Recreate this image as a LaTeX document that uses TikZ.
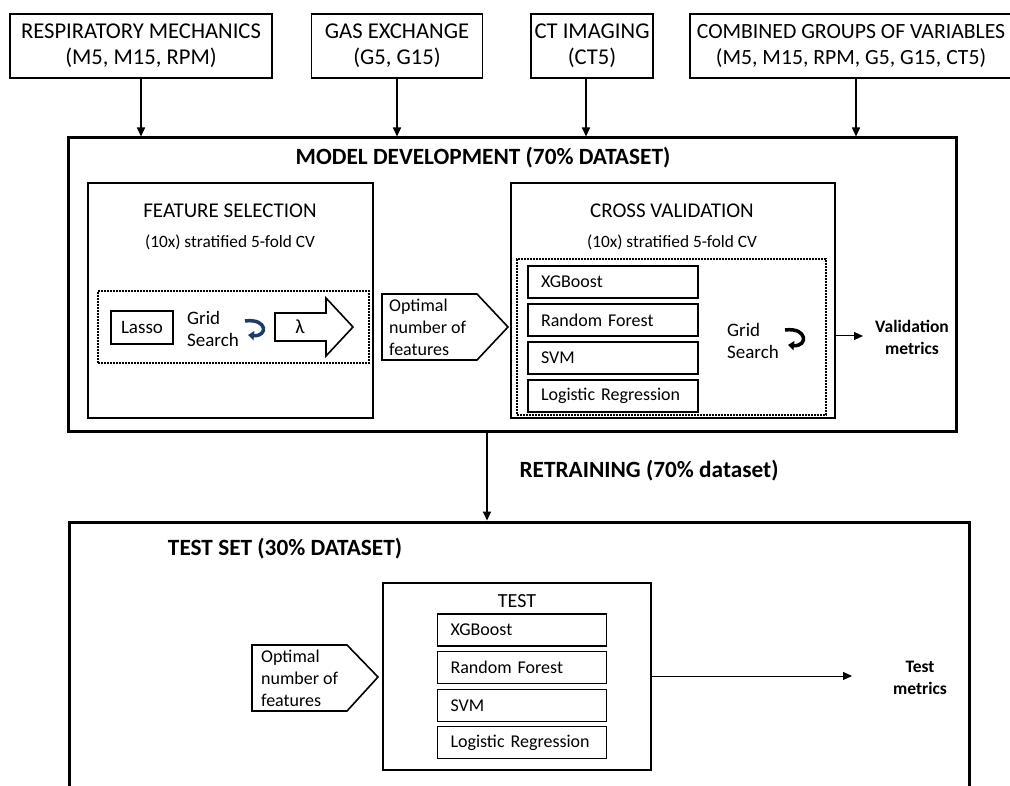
\documentclass[tikz,border=0pt]{standalone}
\usepackage{fontspec}
\setmainfont{Carlito}
\usetikzlibrary{arrows.meta}
\definecolor{navy}{HTML}{1F3A6B}
\begin{document}
\begin{tikzpicture}[x=1pt,y=-1pt,
  topbox/.style={draw, line width=1.8pt, align=center, font=\fontsize{22.6}{26}\selectfont, inner sep=0},
  bigbox/.style={draw, line width=3pt, inner sep=0},
  midbox/.style={draw, line width=1.8pt, inner sep=0},
  dotbox/.style={draw, line width=1.8pt, dash pattern=on 1.6pt off 1.4pt, inner sep=0},
  mbox/.style={draw, line width=1.4pt, minimum height=32pt, text width=144pt, inner xsep=13pt, inner ysep=0, align=left, font=\fontsize{18}{20}\selectfont},
  ttl/.style={font=\fontsize{23.3}{26}\selectfont\bfseries},
  sub/.style={font=\fontsize{21}{24}\selectfont},
  small/.style={font=\fontsize{17.3}{20}\selectfont},
  lbl/.style={align=left, font=\fontsize{19}{22}\selectfont, inner sep=0},
  met/.style={align=center, font=\fontsize{17.5}{22}\selectfont\bfseries, inner sep=0},
  arr/.style={line width=1.6pt, -{Triangle[length=9pt,width=8pt]}},
  thinarr/.style={line width=1pt, -{Triangle[length=9pt,width=8pt]}},
  hook/.style={line width=3.5pt, -{Triangle[length=6pt,width=9pt]}}
]
\useasboundingbox (0,0) rectangle (1010,786);
\fill[white] (0,0) rectangle (1010,786);

% top boxes
\node[topbox, minimum width=262pt, minimum height=64pt] (rm) at (141,46) {RESPIRATORY MECHANICS\\(M5, M15, RPM)};
\node[topbox, minimum width=171pt, minimum height=64pt] (ge) at (397,46) {GAS EXCHANGE\\(G5, G15)};
\node[topbox, minimum width=122pt, minimum height=64pt] (ct) at (592,46) {CT IMAGING\\(CT5)};
\node[topbox, minimum width=326pt, minimum height=64pt] (cg) at (853,46) {};
\node[align=center, font=\fontsize{21.7}{26}\selectfont, inner sep=0] (cgt) at (851,46) {COMBINED GROUPS OF VARIABLES\\(M5, M15, RPM, G5, G15, CT5)};

% model development
\node[bigbox, minimum width=888pt, minimum height=293pt] (md) at (512,284.5) {};
\node[ttl] (mdt) at (483,158) {MODEL DEVELOPMENT (70\% DATASET)};

\draw[arr] (rm.south) -- (rm.south |- md.north);
\draw[arr] (ge.south) -- (ge.south |- md.north);
\draw[arr] ([xshift=-6pt]ct.south) -- ([xshift=-6pt]ct.south |- md.north);
\draw[arr] ([xshift=3pt]cg.south) -- ([xshift=3pt]cg.south |- md.north);

% feature selection
\node[midbox, minimum width=285pt, minimum height=235pt] (fs) at (230.5,300.5) {};
\node[sub] (fst) at (230,211) {FEATURE SELECTION};
\node[small] (fss) at (230,242) {(10x) stratified 5-fold CV};
\node[dotbox, minimum width=271pt, minimum height=72pt] (fsd) at (233.5,327) {};
\node[draw, line width=1.4pt, minimum width=62pt, minimum height=33pt, inner sep=0, font=\fontsize{19}{22}\selectfont] (lasso) at (142,327.5) {Lasso};
\node[lbl, anchor=west] (gs1) at (187,329) {Grid\\Search};
\coordinate (h1a) at (245,321);
\coordinate (h1b) at (248,335);
\draw[hook, navy] (h1a) .. controls (268,318) and (268,337) .. (h1b);
\draw[line width=1.6pt] (275,313) -- (326,313) -- (326,298) -- (353,327) -- (326,356) -- (326,341) -- (275,341) -- cycle;
\node[font=\fontsize{20}{22}\selectfont] (lam) at (300,327) {λ};

% optimal number 1
\draw[line width=1.6pt] (382,294) -- (477,294) -- (508,327) -- (477,360) -- (382,360) -- cycle;
\node[lbl, anchor=west, font=\fontsize{18}{22}\selectfont] (opt1) at (389,327) {Optimal\\number of\\features};

% cross validation
\node[midbox, minimum width=324pt, minimum height=235pt] (cv) at (673,300.5) {};
\node[sub] (cvt) at (672,211) {CROSS VALIDATION};
\node[small] (cvs) at (672,242) {(10x) stratified 5-fold CV};
\node[dotbox, minimum width=309pt, minimum height=156pt] (cvd) at (671.5,337) {};
\node[mbox] (x1) at (613,282) {XGBoost};
\node[mbox] (r1) at (613,320) {Random Forest};
\node[mbox] (s1) at (613,358) {SVM};
\node[mbox] (l1) at (613,396) {Logistic Regression};
\node[lbl, anchor=west] (gs2) at (727,341) {Grid\\Search};
\coordinate (h2a) at (785,330);
\coordinate (h2b) at (788,345);
\draw[hook] (h2a) .. controls (808,327) and (808,347) .. (h2b);
\coordinate (vm) at (863,336);
\draw[thinarr] (cv.east |- vm) -- (vm);
\node[met] (vmt) at (912,337) {Validation\\metrics};

% retraining
\node[bigbox, minimum width=900pt, minimum height=290pt] (ts) at (519,667) {};
\draw[arr] ([xshift=-25pt]md.south) -- ([xshift=-25pt]md.south |- ts.north);
\node[ttl] (rt) at (649,471) {RETRAINING (70\% dataset)};
\node[ttl] (tst) at (285,549) {TEST SET (30\% DATASET)};

% test
\node[midbox, minimum width=268pt, minimum height=187pt] (ti) at (517,676.5) {};
\node[font=\fontsize{20}{22}\selectfont] (tt) at (517,601) {TEST};
\node[mbox, text width=143pt] (x2) at (522,630) {XGBoost};
\node[mbox, text width=143pt] (r2) at (522,667.5) {Random Forest};
\node[mbox, text width=143pt] (s2) at (522,705.5) {SVM};
\node[mbox, text width=143pt] (l2) at (522,742.5) {Logistic Regression};

\draw[line width=1.6pt] (252,645) -- (347,645) -- (378,677) -- (347,711) -- (252,711) -- cycle;
\node[lbl, anchor=west, font=\fontsize{18}{22}\selectfont] (opt2) at (261,678) {Optimal\\number of\\features};

\coordinate (tm) at (852,676);
\draw[thinarr] (ti.east |- tm) -- (tm);
\node[met] (tmt) at (920,678) {Test\\metrics};
\end{tikzpicture}
\end{document}
